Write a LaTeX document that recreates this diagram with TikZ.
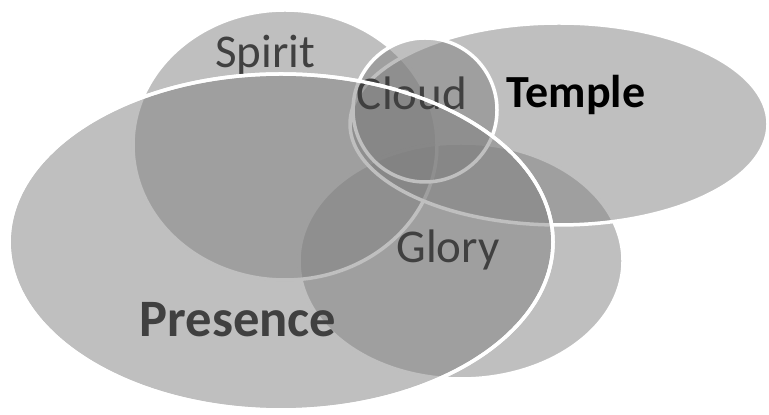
\documentclass[tikz,border=0pt]{standalone}
\usepackage{fontspec}
\setmainfont{Carlito}
\usetikzlibrary{shapes.geometric}
\begin{document}
\begin{tikzpicture}[x=0.5pt,y=-0.5pt,
  venn/.style={ellipse, fill=black!50, fill opacity=0.5, draw=white, line width=1.75pt, inner sep=0pt, outer sep=0pt},
  rim/.style={ellipse, draw=white, line width=1.75pt, inner sep=0pt, outer sep=0pt},
  lbl/.style={anchor=base, inner sep=0pt, text=black!75, font=\fontsize{23.5}{28}\selectfont},
  boldlbl/.style={anchor=base, inner sep=0pt, font=\bfseries\fontsize{23}{28}\selectfont}]
\useasboundingbox (0,0) rectangle (769,415);
% sets, bottom to top
\node[venn, minimum width=162pt, minimum height=118pt] (glory) at (461,261) {};
\node[venn, minimum width=152pt, minimum height=135pt] (spirit) at (285,145) {};
\node[venn, minimum width=209pt, minimum height=101pt] (temple) at (559,124) {};
\node[venn, minimum width=72pt, minimum height=72pt] (cloud) at (425,110) {};
\node[venn, minimum width=272pt, minimum height=168pt] (presence) at (281,242) {};
% labels
\node[lbl] (spiritlbl) at (265,68) {Spirit};
\node[lbl] (cloudlbl) at (412,110) {Cloud};
\node[boldlbl, text=black] (templelbl) at (576,108) {Temple};
\node[lbl] (glorylbl) at (448,263) {Glory};
\node[boldlbl, text=black!75, font=\bfseries\fontsize{26.3}{31}\selectfont] (presencelbl) at (238,337) {Presence};
% top outline of Presence over the labels
\node[rim, minimum width=272pt, minimum height=168pt] (presencerim) at (presence) {};
\end{tikzpicture}
\end{document}
